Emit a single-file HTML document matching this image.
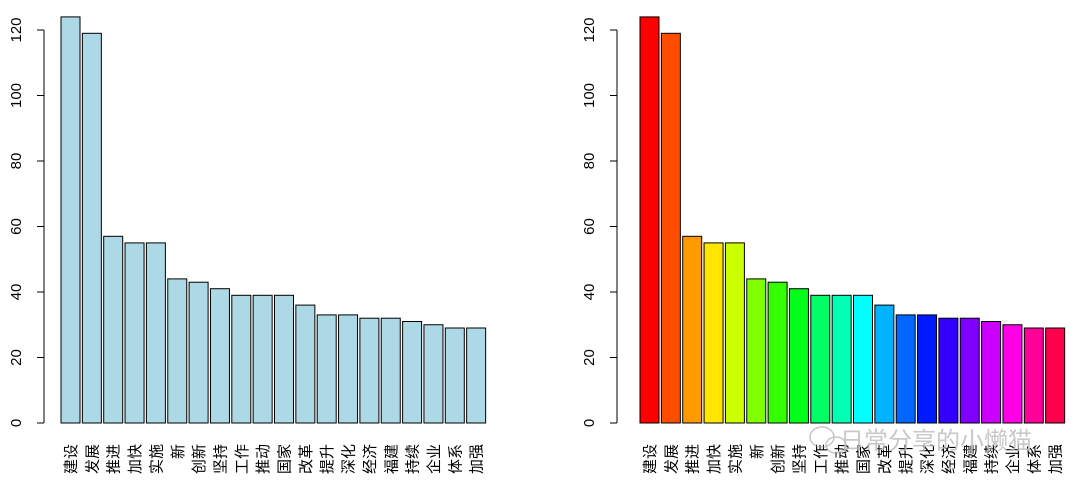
<!DOCTYPE html>
<html><head><meta charset="utf-8"><style>
html,body{margin:0;padding:0;background:#fff;}
svg{display:block;font-family:"Liberation Sans","Noto Sans CJK SC",sans-serif;}
</style></head><body>
<svg width="1079" height="490" viewBox="0 0 1079 490" xmlns="http://www.w3.org/2000/svg">
<defs>
<g id="axis" stroke="#000" stroke-width="1" fill="none">
<line x1="44" y1="30" x2="44" y2="423"/>
<line x1="37" y1="423" x2="44" y2="423"/>
<line x1="37" y1="357.5" x2="44" y2="357.5"/>
<line x1="37" y1="292" x2="44" y2="292"/>
<line x1="37" y1="226.5" x2="44" y2="226.5"/>
<line x1="37" y1="161" x2="44" y2="161"/>
<line x1="37" y1="95.5" x2="44" y2="95.5"/>
<line x1="37" y1="30" x2="44" y2="30"/>
</g>
<g id="ylab" font-size="15" fill="#000" text-anchor="middle">
<text transform="translate(21,423) rotate(-90)">0</text>
<text transform="translate(21,357.5) rotate(-90)">20</text>
<text transform="translate(21,292) rotate(-90)">40</text>
<text transform="translate(21,226.5) rotate(-90)">60</text>
<text transform="translate(21,161) rotate(-90)">80</text>
<text transform="translate(21,95.5) rotate(-90)">100</text>
<text transform="translate(21,30) rotate(-90)">120</text>
</g>
<g id="xlab" font-size="15" fill="#000" text-anchor="end">
<text transform="translate(76,444) rotate(-90)">建设</text>
<text transform="translate(97.4,444) rotate(-90)">发展</text>
<text transform="translate(118.7,444) rotate(-90)">推进</text>
<text transform="translate(140,444) rotate(-90)">加快</text>
<text transform="translate(161.4,444) rotate(-90)">实施</text>
<text transform="translate(182.8,444) rotate(-90)">新</text>
<text transform="translate(204.1,444) rotate(-90)">创新</text>
<text transform="translate(225.5,444) rotate(-90)">坚持</text>
<text transform="translate(246.8,444) rotate(-90)">工作</text>
<text transform="translate(268.2,444) rotate(-90)">推动</text>
<text transform="translate(289.5,444) rotate(-90)">国家</text>
<text transform="translate(310.9,444) rotate(-90)">改革</text>
<text transform="translate(332.2,444) rotate(-90)">提升</text>
<text transform="translate(353.6,444) rotate(-90)">深化</text>
<text transform="translate(374.9,444) rotate(-90)">经济</text>
<text transform="translate(396.3,444) rotate(-90)">福建</text>
<text transform="translate(417.6,444) rotate(-90)">持续</text>
<text transform="translate(439,444) rotate(-90)">企业</text>
<text transform="translate(460.3,444) rotate(-90)">体系</text>
<text transform="translate(481.7,444) rotate(-90)">加强</text>
</g>
</defs>

<use href="#axis"/><use href="#ylab"/><use href="#xlab"/>
<g stroke="#000" stroke-width="1" fill="#ADD8E6">
<rect x="61" y="16.9" width="19" height="406.1"/>
<rect x="82.35" y="33.3" width="19" height="389.7"/>
<rect x="103.7" y="236.3" width="19" height="186.7"/>
<rect x="125.05" y="242.9" width="19" height="180.1"/>
<rect x="146.4" y="242.9" width="19" height="180.1"/>
<rect x="167.75" y="278.9" width="19" height="144.1"/>
<rect x="189.1" y="282.2" width="19" height="140.8"/>
<rect x="210.45" y="288.7" width="19" height="134.3"/>
<rect x="231.8" y="295.3" width="19" height="127.7"/>
<rect x="253.15" y="295.3" width="19" height="127.7"/>
<rect x="274.5" y="295.3" width="19" height="127.7"/>
<rect x="295.85" y="305.1" width="19" height="117.9"/>
<rect x="317.2" y="314.9" width="19" height="108.1"/>
<rect x="338.55" y="314.9" width="19" height="108.1"/>
<rect x="359.9" y="318.2" width="19" height="104.8"/>
<rect x="381.25" y="318.2" width="19" height="104.8"/>
<rect x="402.6" y="321.5" width="19" height="101.5"/>
<rect x="423.95" y="324.75" width="19" height="98.25"/>
<rect x="445.3" y="328" width="19" height="95"/>
<rect x="466.65" y="328" width="19" height="95"/>
</g>

<g transform="translate(573,0)"><use href="#axis"/><use href="#ylab"/></g>
<g transform="translate(579,0)">
<use href="#xlab"/>
<g stroke="#000" stroke-width="1">
<rect x="61" y="16.9" width="19" height="406.1" fill="#FF0000"/>
<rect x="82.35" y="33.3" width="19" height="389.7" fill="#FF4D00"/>
<rect x="103.7" y="236.3" width="19" height="186.7" fill="#FF9900"/>
<rect x="125.05" y="242.9" width="19" height="180.1" fill="#FFE500"/>
<rect x="146.4" y="242.9" width="19" height="180.1" fill="#CCFF00"/>
<rect x="167.75" y="278.9" width="19" height="144.1" fill="#80FF00"/>
<rect x="189.1" y="282.2" width="19" height="140.8" fill="#33FF00"/>
<rect x="210.45" y="288.7" width="19" height="134.3" fill="#00FF19"/>
<rect x="231.8" y="295.3" width="19" height="127.7" fill="#00FF66"/>
<rect x="253.15" y="295.3" width="19" height="127.7" fill="#00FFB2"/>
<rect x="274.5" y="295.3" width="19" height="127.7" fill="#00FFFF"/>
<rect x="295.85" y="305.1" width="19" height="117.9" fill="#00B3FF"/>
<rect x="317.2" y="314.9" width="19" height="108.1" fill="#0066FF"/>
<rect x="338.55" y="314.9" width="19" height="108.1" fill="#001AFF"/>
<rect x="359.9" y="318.2" width="19" height="104.8" fill="#3300FF"/>
<rect x="381.25" y="318.2" width="19" height="104.8" fill="#7F00FF"/>
<rect x="402.6" y="321.5" width="19" height="101.5" fill="#CC00FF"/>
<rect x="423.95" y="324.75" width="19" height="98.25" fill="#FF00E6"/>
<rect x="445.3" y="328" width="19" height="95" fill="#FF0099"/>
<rect x="466.65" y="328" width="19" height="95" fill="#FF004D"/>
</g>
</g>

<g opacity="0.55" fill="none" stroke="#999" stroke-width="1.5">
<ellipse cx="822" cy="437" rx="12" ry="10"/>
<ellipse cx="836" cy="445" rx="10" ry="8"/>
</g>
<text x="840" y="449" font-size="24" fill="#bbb" opacity="0.8">日常分享的小懒猫</text>
</svg>
</body></html>
